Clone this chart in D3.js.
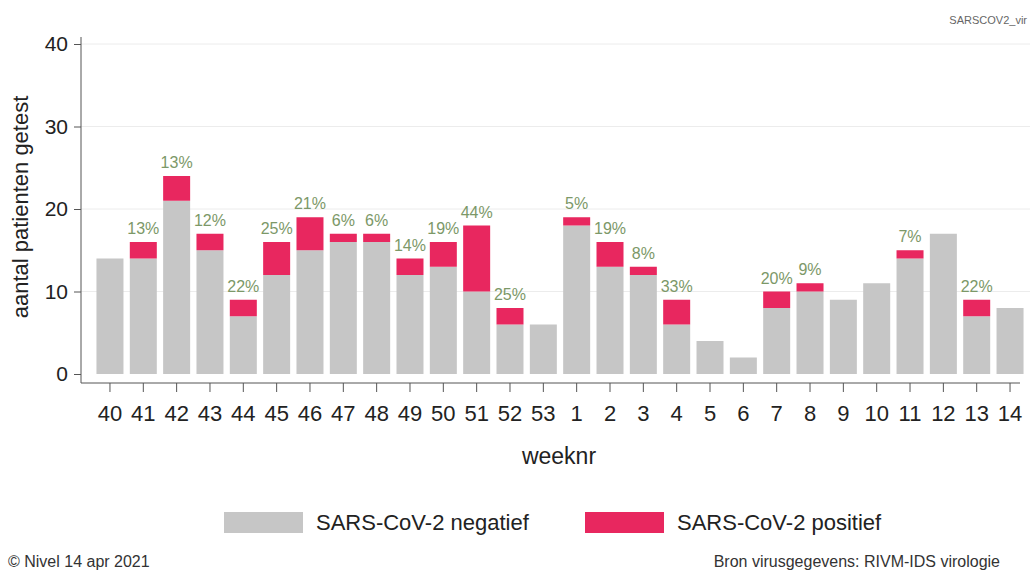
<!DOCTYPE html>
<html><head><meta charset="utf-8">
<script src="https://cdn.jsdelivr.net/npm/d3@7"></script>
<style>
html,body{margin:0;padding:0;background:#fff;}
svg{display:block;font-family:"Liberation Sans",Arial,sans-serif;}
</style></head>
<body>
<script>
const weeks = ["40","41","42","43","44","45","46","47","48","49","50","51","52","53","1","2","3","4","5","6","7","8","9","10","11","12","13","14"];
const negatief = [14,14,21,15,7,12,15,16,16,12,13,10,6,6,18,13,12,6,4,2,8,10,9,11,14,17,7,8];
const positief = [0,2,3,2,2,4,4,1,1,2,3,8,2,0,1,3,1,3,0,0,2,1,0,0,1,0,2,0];
const pctLabels = ["","13%","13%","12%","22%","25%","21%","6%","6%","14%","19%","44%","25%","","5%","19%","8%","33%","","","20%","9%","","","7%","","22%",""];
const yTicks = [0,10,20,30,40];
const legendLabels = ["SARS-CoV-2 negatief","SARS-CoV-2 positief"];

const W = 1033, H = 572;
const colNeg = "#c6c6c6", colPos = "#e8275f", colPct = "#7c9868";
const svg = d3.select("body").append("svg").attr("width", W).attr("height", H);

const x = d3.scaleBand().domain(weeks).range([93.3, 1026.7]).paddingInner(0.19).paddingOuter(0.095);
const y = d3.scaleLinear().domain([0, 40]).range([374, 44]);

// gridlines
svg.append("g").selectAll("line").data(yTicks.filter(d => d > 0)).join("line")
  .attr("x1", 81).attr("x2", 1030).attr("y1", d => y(d)).attr("y2", d => y(d))
  .attr("stroke", "#ececec").attr("stroke-width", 1);

// bars
const g = svg.append("g");
g.selectAll("rect.neg").data(weeks).join("rect").attr("class", "neg")
  .attr("x", d => x(d)).attr("width", x.bandwidth())
  .attr("y", (d, i) => y(negatief[i])).attr("height", (d, i) => y(0) - y(negatief[i]))
  .attr("fill", colNeg);
g.selectAll("rect.pos").data(weeks).join("rect").attr("class", "pos")
  .attr("x", d => x(d)).attr("width", x.bandwidth())
  .attr("y", (d, i) => y(negatief[i] + positief[i])).attr("height", (d, i) => y(negatief[i]) - y(negatief[i] + positief[i]))
  .attr("fill", colPos);
g.selectAll("text.pct").data(weeks).join("text").attr("class", "pct")
  .attr("x", d => x(d) + x.bandwidth() / 2)
  .attr("y", (d, i) => y(negatief[i] + positief[i]) - 8)
  .attr("text-anchor", "middle").attr("font-size", 16).attr("fill", colPct)
  .text((d, i) => pctLabels[i]);

// y axis
const yAxis = svg.append("g").attr("transform", "translate(81,0)")
  .call(d3.axisLeft(y).tickValues(yTicks).tickSize(7).tickPadding(6));
yAxis.select(".domain").attr("d", "M0,37V383").attr("stroke", "#555");
yAxis.selectAll(".tick line").attr("stroke", "#555");
yAxis.selectAll(".tick text").attr("font-size", 21).attr("fill", "#222").attr("font-family", "Liberation Sans, Arial, sans-serif");

// x axis
const xAxis = svg.append("g").attr("transform", "translate(0,383)")
  .call(d3.axisBottom(x).tickSize(9).tickPadding(13));
xAxis.select(".domain").attr("d", "M81,0H1020").attr("stroke", "#555");
xAxis.selectAll(".tick line").attr("stroke", "#555");
xAxis.selectAll(".tick text").attr("font-size", 22).attr("fill", "#222").attr("font-family", "Liberation Sans, Arial, sans-serif");

// axis titles
svg.append("text").attr("transform", "translate(28,207) rotate(-90)")
  .attr("text-anchor", "middle").attr("font-size", 22).attr("fill", "#222").text("aantal patienten getest");
svg.append("text").attr("x", 559).attr("y", 464).attr("text-anchor", "middle")
  .attr("font-size", 23).attr("fill", "#222").text("weeknr");

// top-right tag
svg.append("text").attr("x", 1027).attr("y", 24).attr("text-anchor", "end")
  .attr("font-size", 11).attr("fill", "#666").text("SARSCOV2_vir");

// legend
const lg = svg.append("g");
const legX = [224, 585];
const legCol = [colNeg, colPos];
legendLabels.forEach((t, i) => {
  lg.append("rect").attr("x", legX[i]).attr("y", 512).attr("width", 79).attr("height", 21).attr("fill", legCol[i]);
  lg.append("text").attr("x", legX[i] + 92).attr("y", 530).attr("font-size", 22).attr("fill", "#222").text(t);
});

// footer
svg.append("text").attr("x", 8).attr("y", 567).attr("font-size", 16).attr("fill", "#333").text("© Nivel 14 apr 2021");
svg.append("text").attr("x", 1000).attr("y", 567).attr("text-anchor", "end").attr("font-size", 16).attr("fill", "#333").text("Bron virusgegevens: RIVM-IDS virologie");
</script>
</body></html>
